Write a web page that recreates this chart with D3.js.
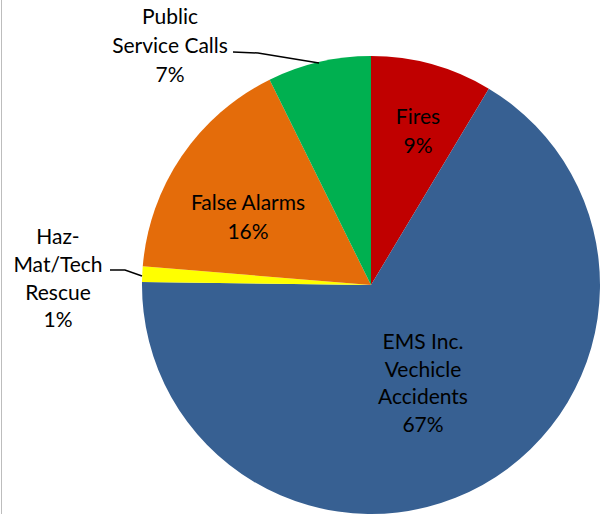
<!DOCTYPE html>
<html>
<head>
<meta charset="utf-8">
<script src="https://cdn.jsdelivr.net/npm/d3@7"></script>
<style>
  html, body { margin: 0; padding: 0; background: #fff; }
  svg { display: block; }
  text { font-family: Lato, "Open Sans", sans-serif; font-size: 21px; fill: #000; }
</style>
</head>
<body>
<script>
const categories = ["Fires", "EMS Inc. Vechicle Accidents", "Haz-Mat/Tech Rescue", "False Alarms", "Public Service Calls"];
const values = [8.6, 66.6, 1.1, 16.4, 7.3];
const colors = ["#C00000", "#376092", "#FFFF00", "#E46C0A", "#00B050"];
const labelLines = [
  ["Fires"],
  ["EMS Inc.", "Vechicle", "Accidents"],
  ["Haz-", "Mat/Tech", "Rescue"],
  ["False Alarms"],
  ["Public", "Service Calls"]
];

const W = 600, H = 514;
const cx = 371, cy = 285, R = 229;

const svg = d3.select("body").append("svg").attr("width", W).attr("height", H);

// left border line
svg.append("line").attr("x1", 1.5).attr("x2", 1.5).attr("y1", 0).attr("y2", H)
  .attr("stroke", "#BDBDBD").attr("stroke-width", 1);

const pie = d3.pie().sort(null).value(d => d.v).startAngle(0).endAngle(2 * Math.PI);
const data = categories.map((c, i) => ({ c, v: values[i], col: colors[i], lines: labelLines[i] }));
const arcs = pie(data);
const arc = d3.arc().innerRadius(0).outerRadius(R);

const g = svg.append("g").attr("transform", `translate(${cx},${cy})`);
g.selectAll("path").data(arcs).enter().append("path")
  .attr("d", arc).attr("fill", d => d.data.col);

// label placement (absolute positions on page)
const labelPos = {
  "Fires": { x: 418, y: 117, lh: 29 },
  "EMS Inc. Vechicle Accidents": { x: 423, y: 342, lh: 27.5 },
  "Haz-Mat/Tech Rescue": { x: 58, y: 237, lh: 27.7 },
  "False Alarms": { x: 248, y: 203, lh: 29 },
  "Public Service Calls": { x: 170, y: 17, lh: 29 }
};

arcs.forEach(a => {
  const p = labelPos[a.data.c];
  const lines = a.data.lines.concat([Math.round(a.data.v) + "%"]);
  const t = svg.append("text").attr("text-anchor", "middle");
  lines.forEach((ln, i) => {
    t.append("tspan").attr("x", p.x).attr("y", p.y + i * p.lh).attr("dy", "0.35em").text(ln);
  });
});

// leader lines
const leaders = [
  [[233, 52], [258, 53], [319, 63]],
  [[110, 270], [125, 270], [142, 276]]
];
leaders.forEach(pts => {
  svg.append("path").attr("d", d3.line()(pts)).attr("fill", "none")
    .attr("stroke", "#000").attr("stroke-width", 1.5);
});
</script>
</body>
</html>
